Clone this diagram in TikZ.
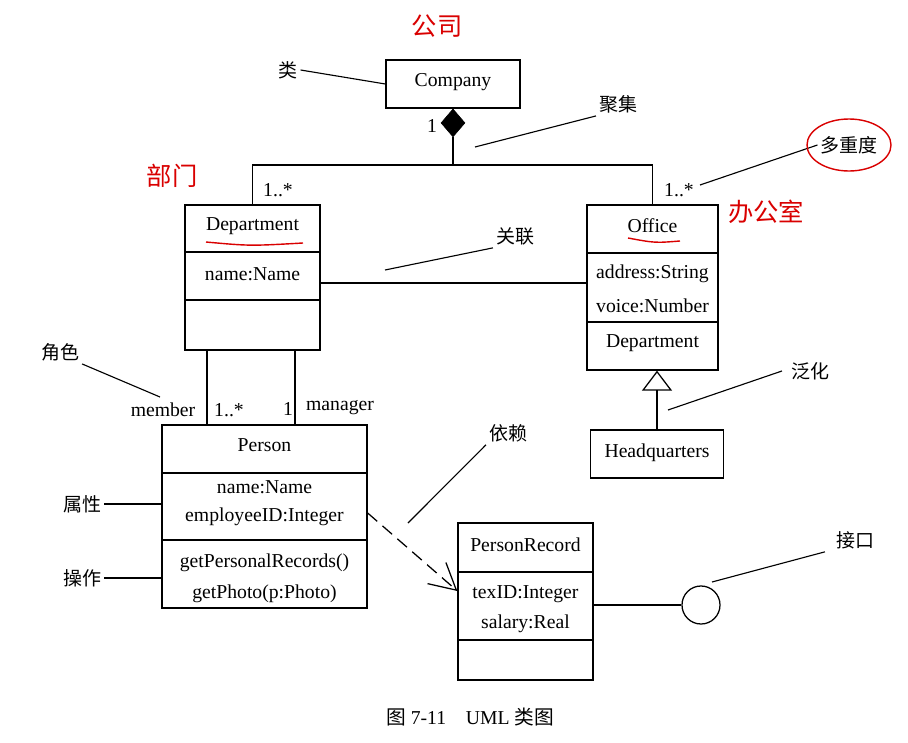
\documentclass[tikz,border=0pt]{standalone}
\usepackage{fontspec}
\setmainfont{Liberation Serif}
\newfontfamily\cjk{Noto Sans CJK SC}
\usetikzlibrary{positioning,shapes.geometric,arrows.meta}
\tikzset{
  umlclass/.style={draw, line width=0.9pt, inner sep=0pt},
  txt/.style={font=\fontsize{14}{16}\selectfont, inner sep=2pt},
  zh/.style={font=\cjk\fontsize{13.5}{15}\selectfont, inner sep=2pt},
  hand/.style={font=\cjk\fontsize{18}{20}\selectfont, red!85!black, inner sep=0pt},
  link/.style={line width=0.9pt},
  lead/.style={line width=0.8pt},
  aggtip/.style={diamond, fill=black, draw, inner sep=0pt, minimum width=0.6cm, minimum height=0.7cm}
}
\begin{document}
\begin{tikzpicture}[x=0.025cm, y=-0.025cm]
  \useasboundingbox (0,0) rectangle (908,743);
  % classes
  \node[umlclass, minimum width=3.35cm, minimum height=1.2cm] (company) at (453,84) {};
  \node[txt] (companyname) at (453,82) {Company};
  \node[aggtip, below=0pt of company] (agg) {};
  \node[txt] (aggmult) at (432,126) {1};

  \node[umlclass, minimum width=3.375cm, minimum height=3.625cm] (dept) at (252.5,277.5) {};
  \draw[link] (dept.west |- 0,252) -- (dept.east |- 0,252);
  \draw[link] (dept.west |- 0,300) -- (dept.east |- 0,300);
  \node[txt] (deptname) at (252.5,226) {Department};
  \node[txt] (deptattr) at (252.5,274) {name:Name};

  \node[umlclass, minimum width=3.275cm, minimum height=4.125cm] (office) at (652.5,287.5) {};
  \draw[link] (office.west |- 0,253) -- (office.east |- 0,253);
  \draw[link] (office.west |- 0,322) -- (office.east |- 0,322);
  \node[txt] (officename) at (652.5,226) {Office};
  \node[txt] (officeaddr) at (652.5,274) {address:String};
  \node[txt] (officevoice) at (652.5,306) {voice:Number};
  \node[txt] (officedept) at (652.5,343) {Department};

  \node[umlclass, minimum width=3.325cm, minimum height=1.2cm] (hq) at (657,454) {};
  \node[txt] (hqname) at (657,453) {Headquarters};

  \node[umlclass, minimum width=5.125cm, minimum height=4.575cm] (person) at (264.5,516.5) {};
  \draw[link] (person.west |- 0,473) -- (person.east |- 0,473);
  \draw[link] (person.west |- 0,540) -- (person.east |- 0,540);
  \node[txt] (personname) at (264.5,445) {Person};
  \node[txt] (personattra) at (264.5,487) {name:Name};
  \node[txt] (personattrb) at (264.5,517) {employeeID:Integer};
  \node[txt] (personopa) at (264.5,563) {getPersonalRecords()};
  \node[txt] (personopb) at (264.5,594) {getPhoto(p:Photo)};

  \node[umlclass, minimum width=3.375cm, minimum height=3.925cm] (rec) at (525.5,601.5) {};
  \draw[link] (rec.west |- 0,572) -- (rec.east |- 0,572);
  \draw[link] (rec.west |- 0,640) -- (rec.east |- 0,640);
  \node[txt] (recname) at (525.5,545) {PersonRecord};
  \node[txt] (recattra) at (525.5,594) {texID:Integer};
  \node[txt] (recattrb) at (525.5,624) {salary:Real};

  \node[circle, draw, line width=0.9pt, minimum size=0.95cm, inner sep=0pt] (iface) at (701,605) {};

  % connectors
  \coordinate (bus) at (453,165);
  \draw[link] (agg.south) -- (bus);
  \draw[link] (dept.north) |- (bus) -| (office.north);
  \node[txt] (deptmult) at (278,190) {1..*};
  \node[txt] (officemult) at (679,190) {1..*};
  \draw[link] (dept.east |- 0,283) -- (office.west |- 0,283);
  \draw[link, -{Triangle[open, width=7.5mm, length=5mm]}] (hq.north) -- (hq.north |- office.south);
  \draw[link] (dept.south -| 207,0) -- (person.north -| 207,0);
  \draw[link] (dept.south -| 295,0) -- (person.north -| 295,0);
  \node[txt] (member) at (163,410) {member};
  \node[txt] (membermult) at (229,410) {1..*};
  \node[txt] (mgrmult) at (288,409) {1};
  \node[txt] (manager) at (340,408) {manager};
  \draw[link, dashed, dash pattern=on 9pt off 5pt, -{Straight Barb[length=6.5mm, width=7mm]}] (person.east |- 0,513) -- (rec.west |- 0,591);
  \draw[link] (rec.east |- iface) -- (iface.west);

  % notes
  \node[zh] (lblclass) at (288,70) {类};
  \draw[lead] (lblclass.east) -- (company.west);
  \node[zh] (lblagg) at (618,104) {聚集};
  \coordinate (aggpt) at (475,147);
  \draw[lead] (aggpt) -- (lblagg.south west);
  \node[zh] (lblmult) at (849,145) {多重度};
  \coordinate (multpt) at (700,185);
  \draw[lead] (multpt) -- (lblmult.west);
  \node[zh] (lblassoc) at (515,236) {关联};
  \coordinate (assocpt) at (385,270);
  \draw[lead] (assocpt) -- (lblassoc.south west);
  \node[zh] (lblgen) at (810,371) {泛化};
  \coordinate (genpt) at (668,410);
  \draw[lead] (genpt) -- ([xshift=-1.5mm]lblgen.west);
  \node[zh] (lblrole) at (60,352) {角色};
  \coordinate (rolept) at (160,397);
  \draw[lead] (lblrole.south east) -- (rolept);
  \node[zh] (lblattr) at (82,504) {属性};
  \draw[lead] (lblattr.east) -- (person.west |- lblattr);
  \node[zh] (lblop) at (82,578) {操作};
  \draw[lead] (lblop.east) -- (person.west |- lblop);
  \node[zh] (lbldep) at (508,433) {依赖};
  \coordinate (deppt) at (408,523);
  \draw[lead] (deppt) -- (lbldep.south west);
  \node[zh] (lbliface) at (855,540) {接口};
  \coordinate (ifacept) at (712,582);
  \draw[lead] (ifacept) -- ([xshift=-2mm]lbliface.south west);

  % caption
  \node[font=\fontsize{14}{16}\selectfont] (caption) at (470,717) {{\cjk 图} 7-11\quad UML {\cjk 类图}};

  % red handwriting
  \node[hand] (notecompany) at (437,26) {公司};
  \node[hand] (notedept) at (172,176) {部门};
  \node[hand] (noteoffice) at (766,212) {办公室};
  \draw[red!85!black, line width=1pt] (lblmult) ellipse [x radius=42, y radius=26];
  \draw[red!85!black, line width=1pt] (206,242) .. controls (250,246) .. (303,243);
  \draw[red!85!black, line width=1pt] (628,238) .. controls (655,243) .. (680,241);
\end{tikzpicture}
\end{document}
